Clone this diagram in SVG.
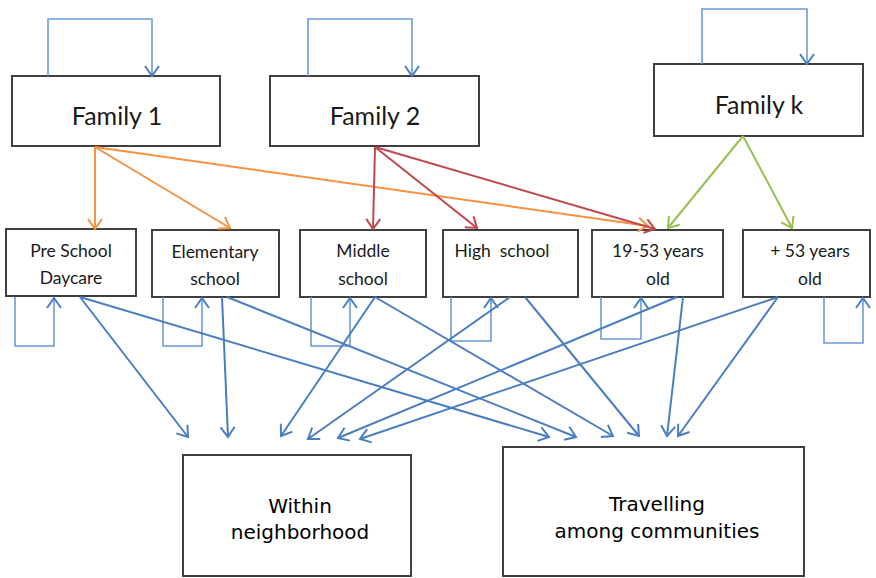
<svg xmlns="http://www.w3.org/2000/svg" width="876" height="578" viewBox="0 0 876 578">
<style>
.box{fill:#ffffff;stroke:#404040;stroke-width:2}
.fam{font-family:Lato,"Open Sans",sans-serif;font-size:25px;fill:#1a1a1a;text-anchor:middle}
.mid{font-family:Lato,"Open Sans",sans-serif;font-size:17.5px;fill:#1a1a1a;text-anchor:middle}
.bot{font-family:"DejaVu Sans","Open Sans",sans-serif;font-size:20px;fill:#000;text-anchor:middle}
.bl{fill:none;stroke:#4a7ec0;stroke-width:2;marker-end:url(#mb)}
.loop{fill:none;stroke:#6b9bd6;stroke-width:1.6;marker-end:url(#mb)}
.or{fill:none;stroke:#f7923f;stroke-width:2;marker-end:url(#mo)}
.rd{fill:none;stroke:#c2474a;stroke-width:2;marker-end:url(#mr)}
.gr{fill:none;stroke:#98c050;stroke-width:2;marker-end:url(#mg)}
</style>
<defs>
<marker id="mb" viewBox="0 0 10 14" refX="10" refY="7" markerWidth="10" markerHeight="14" markerUnits="userSpaceOnUse" orient="auto" overflow="visible"><path d="M0,0 L10,7 L0,14" fill="none" stroke="#4a7ec0" stroke-width="2"/></marker>
<marker id="mo" viewBox="0 0 10 14" refX="10" refY="7" markerWidth="10" markerHeight="14" markerUnits="userSpaceOnUse" orient="auto" overflow="visible"><path d="M0,0 L10,7 L0,14" fill="none" stroke="#f7923f" stroke-width="2"/></marker>
<marker id="mr" viewBox="0 0 10 14" refX="10" refY="7" markerWidth="10" markerHeight="14" markerUnits="userSpaceOnUse" orient="auto" overflow="visible"><path d="M0,0 L10,7 L0,14" fill="none" stroke="#c2474a" stroke-width="2"/></marker>
<marker id="mg" viewBox="0 0 10 14" refX="10" refY="7" markerWidth="10" markerHeight="14" markerUnits="userSpaceOnUse" orient="auto" overflow="visible"><path d="M0,0 L10,7 L0,14" fill="none" stroke="#98c050" stroke-width="2"/></marker>
</defs>
<rect width="876" height="578" fill="#ffffff"/>
<g id="family1"><rect class="box" x="12" y="76" width="208" height="70"/><text class="fam" x="117" y="125">Family 1</text></g>
<g id="family2"><rect class="box" x="270" y="76" width="209" height="70"/><text class="fam" x="375" y="125">Family 2</text></g>
<g id="familyk"><rect class="box" x="654" y="64" width="209" height="72"/><text class="fam" x="759" y="114">Family k</text></g>
<g id="preschool"><rect class="box" x="6" y="229" width="130" height="67"/><text class="mid" x="71" y="257">Pre School</text><text class="mid" x="71" y="284">Daycare</text></g>
<g id="elementary"><rect class="box" x="152" y="230" width="127" height="67"/><text class="mid" x="215" y="258">Elementary</text><text class="mid" x="215" y="285">school</text></g>
<g id="middle"><rect class="box" x="300" y="230" width="126" height="67"/><text class="mid" x="363" y="257">Middle</text><text class="mid" x="363" y="285">school</text></g>
<g id="high"><rect class="box" x="443" y="230" width="135" height="67"/><text class="mid" x="502" y="257" xml:space="preserve">High  school</text></g>
<g id="age19"><rect class="box" x="592" y="230" width="131" height="67"/><text class="mid" x="658" y="257">19-53 years</text><text class="mid" x="658" y="285">old</text></g>
<g id="age53"><rect class="box" x="743" y="230" width="127" height="67"/><text class="mid" x="810" y="257">+ 53 years</text><text class="mid" x="810" y="285">old</text></g>
<g id="within"><rect class="box" x="183" y="455" width="228" height="121"/><text class="bot" x="300" y="513">Within</text><text class="bot" x="300" y="539">neighborhood</text></g>
<g id="travelling"><rect class="box" x="503" y="447" width="301" height="129"/><text class="bot" x="657" y="511" font-size="23">Travelling</text><text class="bot" x="657" y="538" font-size="23">among communities</text></g>
<g id="connectors">
<path class="loop" d="M48,76 V19 H152 V76"/>
<path class="loop" d="M308,76 V19 H412 V76"/>
<path class="loop" d="M702,64 V9 H807 V64"/>
<path class="loop" d="M15,297 V346 H54 V298"/>
<path class="loop" d="M163,297 V346 H202 V298"/>
<path class="loop" d="M311,297 V346 H350 V298"/>
<path class="loop" d="M451,297 V341 H491 V298"/>
<path class="loop" d="M601,297 V339 H641 V298"/>
<path class="loop" d="M824,297 V343 H863 V298"/>
<path class="or" d="M95,147 L95,229"/>
<path class="or" d="M95,147 L230,228"/>
<path class="or" d="M95,147 L648,226"/>
<path class="rd" d="M375,147 L373,229"/>
<path class="rd" d="M375,147 L477,228"/>
<path class="rd" d="M375,147 L655,229"/>
<path class="gr" d="M743,136 L668,228"/>
<path class="gr" d="M743,136 L792,228"/>
<path class="bl" d="M80,297 L188,437"/>
<path class="bl" d="M80,297 L549,437"/>
<path class="bl" d="M222,297 L228,437"/>
<path class="bl" d="M227,297 L576,437"/>
<path class="bl" d="M375,297 L281,436"/>
<path class="bl" d="M375,297 L613,436"/>
<path class="bl" d="M510,297 L308,439"/>
<path class="bl" d="M525,297 L639,436"/>
<path class="bl" d="M677,297 L338,438"/>
<path class="bl" d="M683,297 L667,436"/>
<path class="bl" d="M778,297 L360,439"/>
<path class="bl" d="M778,297 L678,436"/>
</g>
</svg>
